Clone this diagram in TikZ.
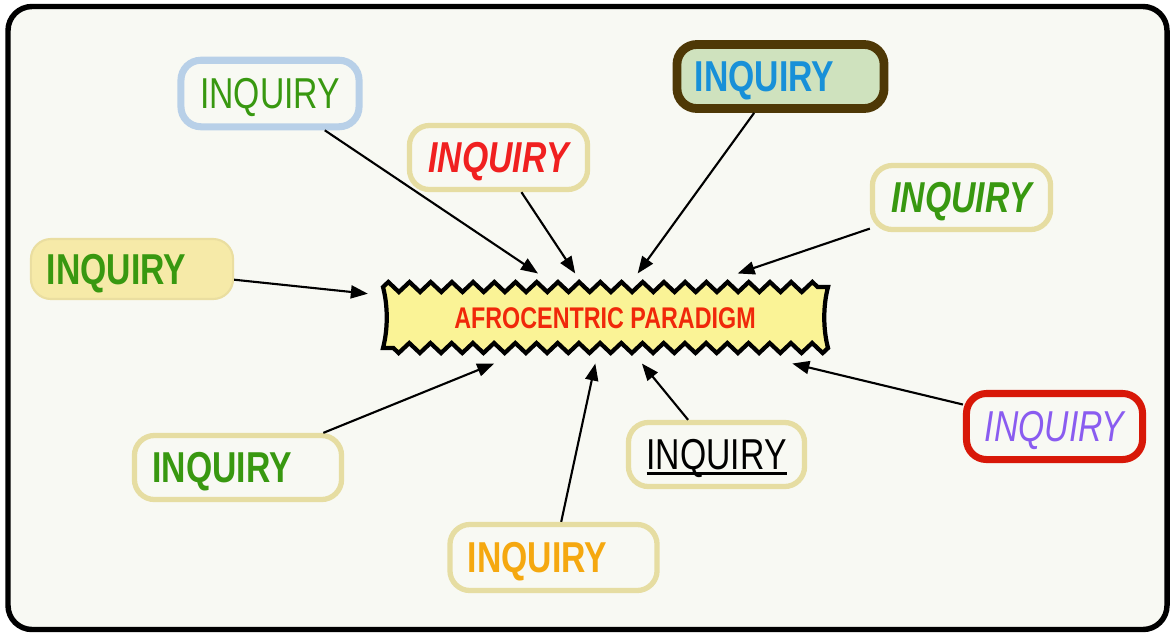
\documentclass[tikz,border=0pt]{standalone}
\usepackage{fontspec}
\setmainfont{Liberation Sans}[FakeStretch=0.78]
\usetikzlibrary{arrows.meta,decorations.pathmorphing}

\definecolor{paper}{RGB}{248,249,243}
\definecolor{tanline}{RGB}{230,221,162}
\definecolor{skyline}{RGB}{184,208,232}
\definecolor{mudline}{RGB}{78,56,6}
\definecolor{sagefill}{RGB}{207,226,190}
\definecolor{strawfill}{RGB}{246,234,168}
\definecolor{fireline}{RGB}{216,24,8}
\definecolor{leafgreen}{RGB}{56,152,16}
\definecolor{inqred}{RGB}{240,32,32}
\definecolor{inqblue}{RGB}{24,144,216}
\definecolor{inqorange}{RGB}{245,168,16}
\definecolor{inqviolet}{RGB}{138,92,240}
\definecolor{zigfill}{RGB}{250,243,150}
\definecolor{zigred}{RGB}{240,40,10}

\newcommand{\inqsize}{\fontsize{12.3}{14}\selectfont}
\newcommand{\ulword}[1]{\setbox0\hbox{#1}\rlap{\rule[-1.5pt]{\wd0}{0.8pt}}\box0}

\begin{document}
\begin{tikzpicture}[x=0.01cm,y=-0.01cm,
    box/.style={draw=tanline, line width=1.5pt, rounded corners=0.2cm, fill=paper,
      inner sep=0pt, text depth=0pt, minimum width=1.78cm, minimum height=0.64cm, font=\inqsize},
    leftbox/.style={box, align=left, inner xsep=0.18cm, text width=1.71cm},
    link/.style={-{Triangle[length=1.7mm,width=1.3mm]}, line width=0.6pt}]

    \useasboundingbox (0,0) rectangle (1171,633);
    \draw[line width=1.55pt, rounded corners=0.24cm, fill=paper] (8,6.5) rectangle (1167,629.5);

    % the zigzag banner
    \draw[line width=1.2pt, line join=miter, fill=zigfill,
          decoration={zigzag, segment length=0.2119cm, amplitude=0.05cm}]
        (383,287) decorate {-- (828,287)} .. controls (823,306) and (823,329) .. (828,348)
        decorate {-- (383,348)} .. controls (388,329) and (388,306) .. cycle;
    \node[minimum width=4.45cm, minimum height=0.61cm, outer sep=0.145cm, text=zigred, text depth=0pt,
          font=\fontsize{8.5}{10}\selectfont\bfseries] (para) at (605,318.5) {AFROCENTRIC PARADIGM};

    \node[box, draw=skyline, line width=2pt, minimum height=0.665cm, text=leafgreen] (inq1) at (270,93.5) {INQUIRY};
    \node[box, text=inqred, font=\inqsize\bfseries\itshape] (inq2) at (498.5,157.5) {INQUIRY};
    \node[leftbox, draw=mudline, line width=2.5pt, fill=sagefill, text=inqblue, font=\inqsize\bfseries] (inq3) at (780.5,76.5) {INQUIRY};
    \node[box, text=leafgreen, font=\inqsize\bfseries\itshape] (inq4) at (961.5,197.5) {INQUIRY};
    \node[leftbox, draw=strawfill!95!black, line width=0.6pt, fill=strawfill, text width=1.7cm,
          inner xsep=0.16cm, minimum height=0.6cm, text=leafgreen, font=\inqsize\bfseries] (inq5) at (132,269) {INQUIRY};
    \node[leftbox, text=leafgreen, font=\inqsize\bfseries] (inq6) at (238,467.5) {INQUIRY};
    \node[leftbox, minimum height=0.66cm, text=inqorange, font=\inqsize\bfseries] (inq7) at (553.5,557.5) {INQUIRY};
    \node[box, minimum width=1.76cm] (inq8) at (716.5,454.5) {\ulword{INQUIRY}};
    \node[box, draw=fireline, line width=2pt, minimum width=1.76cm, minimum height=0.66cm,
          text=inqviolet, font=\inqsize\itshape] (inq9) at (1054.5,426.5) {INQUIRY};

    \foreach \k in {1,...,9}
        \draw[link] (inq\k) -- (para);

\end{tikzpicture}
\end{document}
